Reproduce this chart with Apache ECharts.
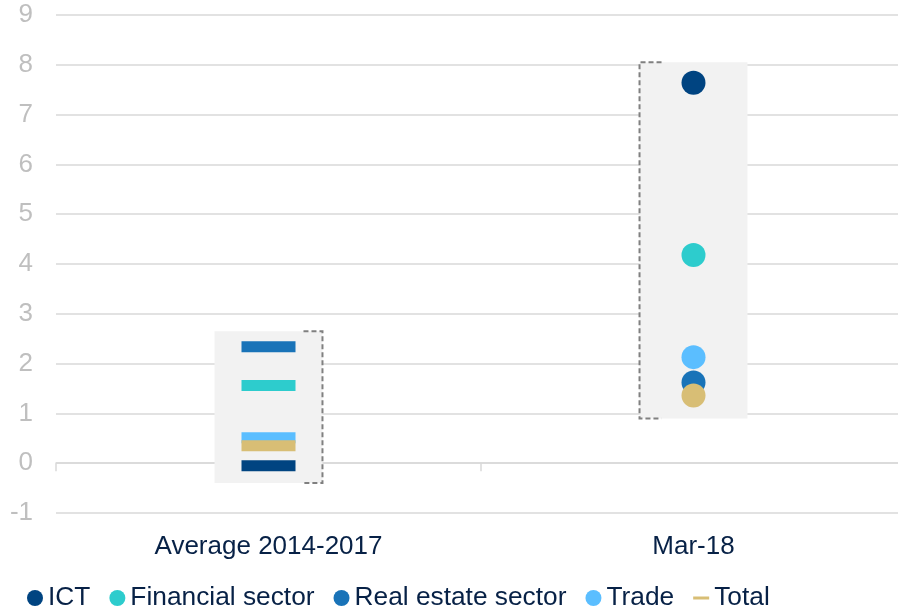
<!DOCTYPE html>
<html>
<head>
<meta charset="utf-8">
<script src="https://cdn.jsdelivr.net/npm/echarts@6/dist/echarts.min.js"></script>
<style>
  html, body { margin: 0; padding: 0; background: #fff; }
  #chart { width: 898px; height: 610px; }
</style>
</head>
<body>
<div id="chart"></div>
<script>
// categories and values
var categories = ['Average 2014-2017', 'Mar-18'];
var ict = [-0.05, 7.64];
var financial = [1.56, 4.18];
var realEstate = [2.34, 1.62];
var trade = [0.51, 2.13];
var total = [0.35, 1.36];
// min / max of each range box
var rangeLow = [-0.4, 0.9];
var rangeHigh = [2.65, 8.05];

var colors = {
    ict: '#004481',
    financial: '#2dcccd',
    realEstate: '#1973b8',
    trade: '#5bbeff',
    total: '#d8be75'
};

var font = 'Liberation Sans, Arial, sans-serif';
var navy = '#072146';

// first category is drawn as dashes, second as dots
function points(values) {
    return values.map(function (v, i) {
        if (i === 0) {
            return { value: [i, v], symbol: 'rect', symbolSize: [54, 11] };
        }
        return { value: [i, v], symbol: 'circle', symbolSize: 24 };
    });
}

function pointSeries(name, values, color) {
    return {
        name: name,
        type: 'scatter',
        data: points(values),
        itemStyle: { color: color, opacity: 1 },
        z: 5
    };
}

var boxData = categories.map(function (c, i) {
    return [i, rangeLow[i], rangeHigh[i]];
});

var option = {
    animation: false,
    color: [colors.ict, colors.financial, colors.realEstate, colors.trade, colors.total],
    grid: {
        left: 56,
        width: 850,
        top: 15,
        bottom: 97,
        outerBoundsMode: 'none',
        containLabel: false
    },
    legend: {
        left: 22,
        top: 580,
        itemWidth: 16,
        itemHeight: 16,
        itemGap: 19,
        textStyle: { fontFamily: font, fontSize: 26.3, color: navy },
        data: [
            { name: 'ICT', icon: 'circle' },
            { name: 'Financial sector', icon: 'circle' },
            { name: 'Real estate sector', icon: 'circle' },
            { name: 'Trade', icon: 'circle' },
            { name: 'Total', icon: 'path://M0,0 L16,0 L16,3 L0,3 Z' }
        ]
    },
    xAxis: [
        {
            type: 'category',
            data: categories,
            boundaryGap: true,
            axisLine: { onZero: true, lineStyle: { color: '#d9d9d9', width: 1.5 } },
            axisTick: { show: true, length: 8, lineStyle: { color: '#d9d9d9', width: 1.5 } },
            axisLabel: { show: false }
        },
        {
            type: 'category',
            data: categories,
            position: 'bottom',
            boundaryGap: true,
            axisLine: { show: false, onZero: false },
            axisTick: { show: false },
            axisLabel: { margin: 21, fontFamily: font, fontSize: 26, color: navy }
        }
    ],
    yAxis: {
        type: 'value',
        min: -1,
        max: 9,
        interval: 1,
        axisLine: { show: false },
        axisTick: { show: false },
        axisLabel: { margin: 23, fontFamily: font, fontSize: 26, color: '#bfbfbf' },
        splitLine: { lineStyle: { color: '#d9d9d9', width: 1.5 } }
    },
    series: [
        {
            type: 'custom',
            name: 'range',
            data: boxData,
            encode: { x: 0, y: [1, 2] },
            z: 1,
            silent: true,
            renderItem: function (params, api) {
                var i = api.value(0);
                var top = api.coord([i, api.value(2)]);
                var bottom = api.coord([i, api.value(1)]);
                var w = api.size([1, 0])[0] * 0.254;
                var left = top[0] - w / 2;
                var right = top[0] + w / 2;
                var bx = params.dataIndex === 0 ? right : left;
                var tick = params.dataIndex === 0 ? -19 : 22;
                return {
                    type: 'group',
                    children: [
                        {
                            type: 'rect',
                            shape: { x: left, y: top[1], width: w, height: bottom[1] - top[1] },
                            style: { fill: '#f2f2f2' }
                        },
                        {
                            type: 'polyline',
                            shape: {
                                points: [
                                    [bx + tick, top[1]],
                                    [bx, top[1]],
                                    [bx, bottom[1]],
                                    [bx + tick, bottom[1]]
                                ]
                            },
                            style: { fill: null, stroke: '#808080', lineWidth: 2, lineDash: [5, 3] }
                        }
                    ]
                };
            }
        },
        pointSeries('ICT', ict, colors.ict),
        pointSeries('Financial sector', financial, colors.financial),
        pointSeries('Real estate sector', realEstate, colors.realEstate),
        pointSeries('Trade', trade, colors.trade),
        pointSeries('Total', total, colors.total)
    ]
};

var myChart = echarts.init(document.getElementById('chart'));
myChart.setOption(option);
</script>
</body>
</html>
